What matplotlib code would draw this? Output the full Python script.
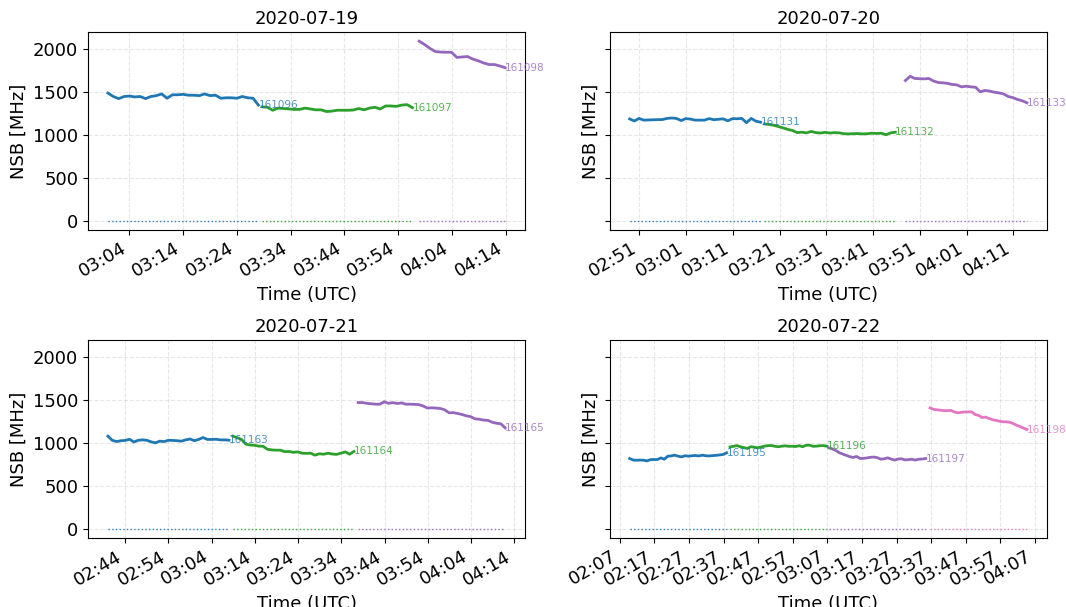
"""NSB per run, four nights in July 2020."""

import matplotlib

matplotlib.use("Agg")

import matplotlib.dates as mdates
import matplotlib.pyplot as plt
import numpy as np
import pandas as pd

dates = ["2020-07-19", "2020-07-20", "2020-07-21", "2020-07-22"]

# one entry per run: (run id, start time, NSB samples at 1 min steps)
runs_0719 = [
    ("161096", "03:00:00", [1485, 1445, 1420, 1445, 1450, 1440, 1445, 1420, 1445, 1455,
                            1475, 1425, 1465, 1465, 1470, 1460, 1460, 1455, 1475, 1455,
                            1460, 1425, 1430, 1430, 1425, 1445, 1430, 1425, 1345]),
    ("161097", "03:28:40", [1325, 1320, 1285, 1310, 1305, 1300, 1295, 1295, 1310, 1300,
                            1290, 1290, 1270, 1275, 1285, 1285, 1285, 1288, 1305, 1290,
                            1310, 1320, 1300, 1335, 1335, 1330, 1345, 1350, 1315]),
    ("161098", "03:57:55", [2089, 2050, 2005, 1968, 1962, 1960, 1960, 1900, 1905, 1910,
                            1880, 1860, 1835, 1817, 1817, 1800, 1780]),
]
runs_0720 = [
    ("161131", "02:48:55", [1184, 1160, 1190, 1170, 1172, 1174, 1176, 1177, 1190, 1195,
                            1190, 1165, 1188, 1182, 1170, 1170, 1170, 1188, 1175, 1180,
                            1185, 1162, 1188, 1186, 1190, 1140, 1190, 1158, 1146]),
    ("161132", "03:17:45", [1126, 1120, 1110, 1095, 1080, 1062, 1050, 1025, 1030, 1022,
                            1038, 1025, 1020, 1028, 1020, 1025, 1022, 1012, 1010, 1012,
                            1014, 1010, 1012, 1018, 1015, 1018, 1000, 1022, 1030]),
    ("161133", "03:47:55", [1631, 1680, 1655, 1652, 1650, 1655, 1625, 1608, 1604, 1598,
                            1585, 1580, 1557, 1565, 1557, 1553, 1500, 1515, 1508, 1495,
                            1487, 1475, 1445, 1432, 1410, 1395, 1372]),
]
runs_0721 = [
    ("161163", "02:40:00", [1078, 1030, 1015, 1025, 1028, 1042, 1010, 1030, 1035, 1030,
                            1012, 1000, 1020, 1015, 1030, 1028, 1025, 1020, 1035, 1045,
                            1025, 1040, 1062, 1040, 1040, 1042, 1035, 1035, 1031]),
    ("161164", "03:08:55", [1078, 1060, 1040, 985, 975, 972, 962, 960, 925, 918,
                            915, 915, 898, 900, 890, 895, 880, 878, 880, 857,
                            873, 868, 880, 870, 866, 880, 895, 868, 900]),
    ("161165", "03:37:55", [1469, 1469, 1460, 1455, 1450, 1450, 1478, 1460, 1468, 1458,
                            1465, 1450, 1450, 1448, 1445, 1430, 1405, 1408, 1405, 1400,
                            1385, 1350, 1352, 1342, 1330, 1315, 1305, 1280, 1275, 1265,
                            1262, 1240, 1228, 1222, 1174]),
]
runs_0722 = [
    ("161195", "02:09:50", [818, 800, 798, 800, 798, 790, 805, 806, 806, 825,
                            810, 845, 848, 857, 845, 837, 850, 845, 850, 853,
                            848, 857, 850, 848, 852, 855, 860, 865, 884]),
    ("161196", "02:38:50", [953, 960, 968, 955, 945, 935, 955, 950, 942, 952,
                            962, 968, 969, 960, 955, 962, 965, 960, 961, 958,
                            967, 955, 972, 973, 960, 962, 967, 968, 961]),
    ("161197", "03:07:25", [942, 930, 912, 885, 870, 855, 840, 830, 842, 818,
                            820, 825, 832, 835, 828, 810, 815, 826, 812, 800,
                            812, 815, 802, 805, 810, 800, 810, 812, 818]),
    ("161198", "03:36:40", [1407, 1390, 1385, 1380, 1375, 1375, 1378, 1360, 1350, 1355,
                            1360, 1360, 1362, 1330, 1320, 1295, 1300, 1285, 1270, 1262,
                            1252, 1245, 1245, 1240, 1225, 1205, 1190, 1172, 1155]),
]

xticks_0719 = ["03:04", "03:14", "03:24", "03:34", "03:44", "03:54", "04:04", "04:14"]
xticks_0720 = ["02:51", "03:01", "03:11", "03:21", "03:31", "03:41", "03:51", "04:01", "04:11"]
xticks_0721 = ["02:44", "02:54", "03:04", "03:14", "03:24", "03:34", "03:44", "03:54",
               "04:04", "04:14"]
xticks_0722 = ["02:07", "02:17", "02:27", "02:37", "02:47", "02:57", "03:07", "03:17",
               "03:27", "03:37", "03:47", "03:57", "04:07"]

all_runs = [runs_0719, runs_0720, runs_0721, runs_0722]
all_ticks = [xticks_0719, xticks_0720, xticks_0721, xticks_0722]

fig, axes = plt.subplots(2, 2, figsize=(10.66, 6.07), dpi=100, sharey=True)
fig.subplots_adjust(left=0.0826, right=0.982, top=0.947, bottom=0.114,
                    wspace=0.194, hspace=0.56)

for ax, date, runs, ticks in zip(axes.flat, dates, all_runs, all_ticks):
    for i, (run_id, start, nsb) in enumerate(runs):
        color = f"C{2 * i}"
        t0 = pd.Timestamp(f"{date} {start}")
        times = t0 + pd.to_timedelta(np.arange(len(nsb)), unit="min")
        ax.plot(times, nsb, color=color, lw=2)
        ax.plot(times, np.zeros(len(nsb)), color=color, lw=1, ls=":", alpha=0.9)
        ax.text(times[-1], nsb[-1], run_id, color=color, alpha=0.8,
                fontsize=7.5, ha="left", va="center")

    ax.set_xticks([pd.Timestamp(f"{date} {t}") for t in ticks])
    ax.xaxis.set_major_formatter(mdates.DateFormatter("%H:%M"))
    plt.setp(ax.get_xticklabels(), rotation=30, ha="right")
    ax.tick_params(labelsize=13)
    ax.set_yticks([0, 500, 1000, 1500, 2000])
    ax.set_title(date, fontsize=13)
    ax.set_xlabel("Time (UTC)", fontsize=13)
    ax.set_ylabel("NSB [MHz]", fontsize=13)
    ax.grid(True, linestyle="--", alpha=0.3)

fig.savefig("out.png")
